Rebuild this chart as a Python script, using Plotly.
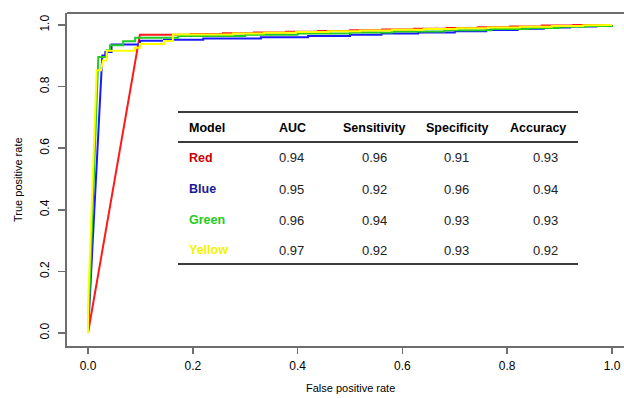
import plotly.graph_objects as go

# ---------------- data ----------------
red_fpr = [0.0, 0.099, 0.1966, 0.1966, 0.2576, 0.2576, 0.3168, 0.3168, 0.3779, 0.3779,
           0.4389, 0.4389, 0.5, 0.5, 0.561, 0.561, 0.622, 0.622, 0.685, 0.685,
           0.744, 0.744, 0.805, 0.805, 0.866, 0.866, 0.926, 0.926, 1.0]
red_tpr = [0.0, 0.968, 0.968, 0.9705, 0.9705, 0.973, 0.973, 0.9755, 0.9755, 0.978,
           0.978, 0.9805, 0.9805, 0.983, 0.983, 0.9855, 0.9855, 0.988, 0.988, 0.9905,
           0.9905, 0.993, 0.993, 0.9955, 0.9955, 0.998, 0.998, 1.0, 1.0]

blue_fpr = [0.0, 0.0273, 0.033, 0.033, 0.045, 0.045, 0.099, 0.099, 0.145, 0.145,
            0.22, 0.22, 0.33, 0.33, 0.42, 0.42, 0.50, 0.50, 0.56, 0.56,
            0.63, 0.63, 0.70, 0.70, 0.76, 0.76, 0.82, 0.82, 0.87, 0.87,
            0.92, 0.92, 0.97, 0.97, 1.0, 1.0]
blue_tpr = [0.0, 0.901, 0.901, 0.912, 0.912, 0.937, 0.937, 0.949, 0.949, 0.952,
            0.952, 0.956, 0.956, 0.960, 0.960, 0.964, 0.964, 0.968, 0.968, 0.972,
            0.972, 0.976, 0.976, 0.980, 0.980, 0.984, 0.984, 0.988, 0.988, 0.992,
            0.992, 0.995, 0.995, 0.998, 0.998, 1.0]

green_fpr = [0.0, 0.0197, 0.0197, 0.0357, 0.0357, 0.042, 0.042, 0.067, 0.067, 0.090,
             0.090, 0.172, 0.172, 0.30, 0.30, 0.40, 0.40, 0.50, 0.50, 0.58,
             0.58, 0.68, 0.68, 0.77, 0.77, 0.84, 0.84, 0.90, 0.90, 0.95,
             0.95, 1.0, 1.0]
green_tpr = [0.0, 0.854, 0.896, 0.896, 0.918, 0.918, 0.934, 0.934, 0.947, 0.947,
             0.959, 0.959, 0.964, 0.964, 0.968, 0.968, 0.972, 0.972, 0.976, 0.976,
             0.979, 0.979, 0.983, 0.983, 0.987, 0.987, 0.990, 0.990, 0.994, 0.994,
             0.997, 0.997, 1.0]

yellow_fpr = [0.0, 0.0, 0.0166, 0.0248, 0.0286, 0.0357, 0.0357, 0.0897, 0.0897, 0.099,
              0.099, 0.145, 0.145, 0.162, 0.162, 0.2157, 0.2157, 0.2767, 0.2767, 0.3359,
              0.3359, 0.3970, 0.3970, 0.4580, 0.4580, 0.5191, 0.5191, 0.5801, 0.5801, 0.6411,
              0.6411, 0.7041, 0.7041, 0.7631, 0.7631, 0.8241, 0.8241, 0.8851, 0.8851, 0.9451,
              0.9451, 1.0]
yellow_tpr = [0.0, 0.085, 0.853, 0.853, 0.885, 0.885, 0.916, 0.916, 0.926, 0.926,
              0.938, 0.938, 0.948, 0.948, 0.969, 0.969, 0.9695, 0.9695, 0.972, 0.972,
              0.9745, 0.9745, 0.977, 0.977, 0.9795, 0.9795, 0.982, 0.982, 0.9845, 0.9845,
              0.987, 0.987, 0.9895, 0.9895, 0.992, 0.992, 0.9945, 0.9945, 0.997, 0.997,
              0.999, 1.0]

x_ticks = [0.0, 0.2, 0.4, 0.6, 0.8, 1.0]
y_ticks = [0.0, 0.2, 0.4, 0.6, 0.8, 1.0]

models = ["Red", "Blue", "Green", "Yellow"]
auc = ["0.94", "0.95", "0.96", "0.97"]
sensitivity = ["0.96", "0.92", "0.94", "0.92"]
specificity = ["0.91", "0.96", "0.93", "0.93"]
accuracy = ["0.93", "0.94", "0.93", "0.92"]
headers = ["Model", "AUC", "Sensitivity", "Specificity", "Accuracy"]

line_colors = {"Red": "#ff1a1a", "Blue": "#1a1aff", "Green": "#22cc22", "Yellow": "#ffff00"}
label_colors = {"Red": "#cc0000", "Blue": "#1a1a99", "Green": "#22cc22", "Yellow": "#f2f200"}

FONT = "Arial, Liberation Sans, sans-serif"

# ---------------- figure geometry ----------------
# the plot box runs past the right edge of the 624 px window, as in the reference
W, H = 640, 398
PL, PR, PT, PB = 67, 640, 13, 346   # plot box in screen pixels
ML, MR, MT, MB = PL, W - PR, PT, H - PB
PW, PH = W - ML - MR, H - MT - MB
X0PX, X1PX = 88, 612         # screen px of x=0 and x=1
Y0PX, Y1PX = 333, 25         # screen px of y=0 and y=1


def px2x(px):
    return (px - ML) / PW


def py2y(py):
    return (H - MB - py) / PH


fig = go.Figure()
for name, xs, ys in [("Red", red_fpr, red_tpr), ("Blue", blue_fpr, blue_tpr),
                     ("Green", green_fpr, green_tpr), ("Yellow", yellow_fpr, yellow_tpr)]:
    fig.add_trace(go.Scatter(x=xs, y=ys, mode="lines", name=name,
                             line=dict(color=line_colors[name], width=2),
                             showlegend=False, hoverinfo="skip"))

shapes = [dict(type="line", xref="paper", yref="paper", x0=0, x1=1, y0=1, y1=1,
               line=dict(color="#6e6e6e", width=2))]
for py in [112, 142, 264]:
    shapes.append(dict(type="line", xref="paper", yref="paper",
                       x0=px2x(178), x1=px2x(578), y0=py2y(py), y1=py2y(py),
                       line=dict(color="#3a3a3a", width=2)))

annotations = []
header_pos = [(187, "left"), (277, "left"), (374, "center"), (457, "center"), (538, "center")]
for h, (px, al) in zip(headers, header_pos):
    annotations.append(dict(xref="paper", yref="paper", x=px2x(px), y=py2y(128),
                            text="<b>%s</b>" % h, showarrow=False, xanchor=al, yanchor="middle",
                            font=dict(family=FONT, size=12.5, color="#000000")))
row_py = [158, 189, 220, 250]
val_pos = [(277, "left"), (374, "center"), (456, "center"), (545, "center")]
for i, m in enumerate(models):
    annotations.append(dict(xref="paper", yref="paper", x=px2x(187), y=py2y(row_py[i]),
                            text="<b>%s</b>" % m, showarrow=False, xanchor="left", yanchor="middle",
                            font=dict(family=FONT, size=12.5, color=label_colors[m])))
    for vals, (px, al) in zip([auc, sensitivity, specificity, accuracy], val_pos):
        annotations.append(dict(xref="paper", yref="paper", x=px2x(px), y=py2y(row_py[i]),
                                text=vals[i], showarrow=False, xanchor=al, yanchor="middle",
                                font=dict(family=FONT, size=13, color="#222222")))

annotations.append(dict(xref="paper", yref="paper", x=px2x(350), y=py2y(388),
                        text="False positive rate", showarrow=False, xanchor="center",
                        yanchor="middle", font=dict(family=FONT, size=11, color="#000000")))
annotations.append(dict(xref="paper", yref="paper", x=px2x(18), y=py2y(180),
                        text="True positive rate", showarrow=False, textangle=-90,
                        xanchor="center", yanchor="middle",
                        font=dict(family=FONT, size=11, color="#000000")))

xs_per = X1PX - X0PX
ys_per = Y0PX - Y1PX
fig.update_layout(
    width=W, height=H,
    margin=dict(l=ML, r=MR, t=MT, b=MB),
    paper_bgcolor="white", plot_bgcolor="white",
    shapes=shapes, annotations=annotations,
    xaxis=dict(range=[(PL - X0PX) / xs_per, (PR - X0PX) / xs_per],
               tickvals=x_ticks, ticktext=["%.1f" % v for v in x_ticks],
               showgrid=False, zeroline=False, showline=True, mirror=False,
               linecolor="#6e6e6e", linewidth=2, ticks="outside", ticklen=6,
               tickwidth=1.5, tickcolor="#6e6e6e", ticklabelstandoff=2,
               ticklabeloverflow="allow",
               tickfont=dict(family=FONT, size=12, color="#000000")),
    yaxis=dict(range=[(Y0PX - PB) / ys_per, (Y0PX - PT) / ys_per],
               tickvals=y_ticks, ticktext=["%.1f" % v for v in y_ticks],
               showgrid=False, zeroline=False, showline=True, mirror=False,
               linecolor="#6e6e6e", linewidth=2, ticks="outside", ticklen=7,
               tickwidth=1.5, tickcolor="#6e6e6e", tickangle=-90, ticklabelstandoff=4,
               ticklabeloverflow="allow",
               tickfont=dict(family=FONT, size=12, color="#000000")),
)

fig.write_html("out.html",
               config={"displayModeBar": False, "staticPlot": True},
               post_script="document.body.style.margin='0px';"
                           "document.body.style.overflow='hidden';")
